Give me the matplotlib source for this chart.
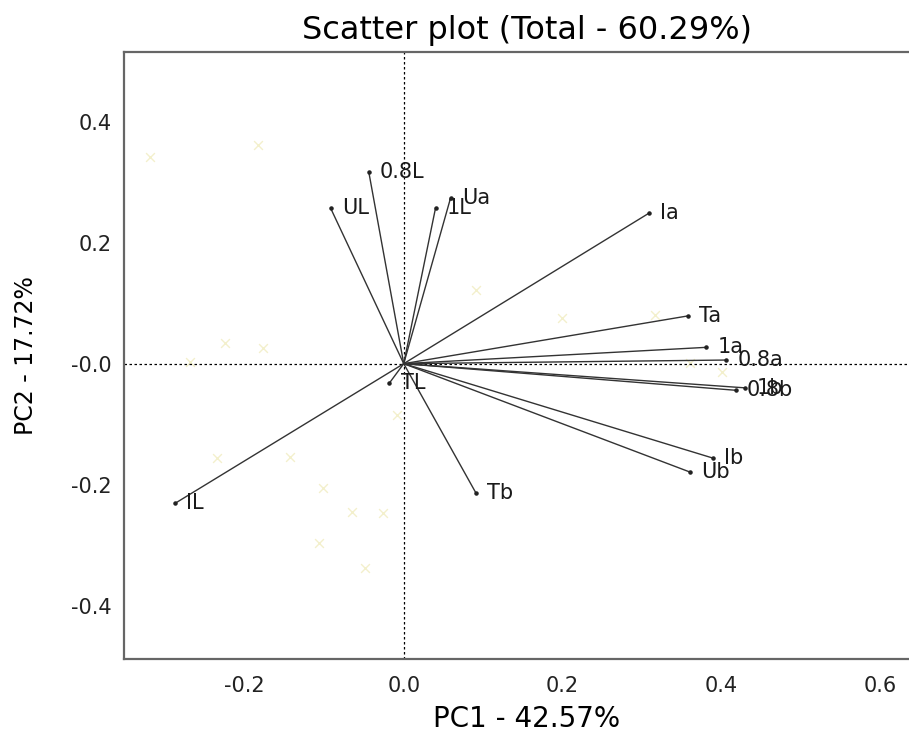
import matplotlib
matplotlib.use("Agg")
import matplotlib.pyplot as plt

# the reference glyphs are wide, DejaVu Sans is the closest installed match
plt.rcParams["font.family"] = ["DejaVu Sans"]

# variable loadings (PC1, PC2)
var_names = ["0.8L", "UL", "1L", "Ua", "Ia", "Ta", "1a", "0.8a",
             "0.8b", "1b", "Ib", "Ub", "Tb", "IL", "TL"]
pc1 = [-0.044, -0.092, 0.040, 0.059, 0.309, 0.358, 0.381, 0.406,
       0.418, 0.430, 0.389, 0.360, 0.091, -0.288, -0.018]
pc2 = [0.317, 0.257, 0.257, 0.274, 0.249, 0.079, 0.027, 0.006,
       -0.044, -0.040, -0.156, -0.179, -0.214, -0.231, -0.032]

# faint observation scores
obs_x = [-0.319, -0.184, -0.225, -0.177, -0.269, -0.235, -0.143, -0.102,
         -0.065, -0.026, -0.009, -0.106, -0.049, 0.316, 0.360, 0.401,
         0.091, 0.199]
obs_y = [0.341, 0.361, 0.034, 0.026, 0.002, -0.156, -0.155, -0.206,
         -0.245, -0.247, -0.085, -0.297, -0.338, 0.080, 0.001, -0.014,
         0.121, 0.075]

title = "Scatter plot (Total - 60.29%)"
xlabel = "PC1 - 42.57%"
ylabel = "PC2 - 17.72%"
xticks = [-0.2, 0.0, 0.2, 0.4, 0.6]
yticks = [-0.4, -0.2, 0.0, 0.2, 0.4]
ytick_labels = ["-0.4", "-0.2", "-0.0", "0.2", "0.4"]

fig = plt.figure(figsize=(9.09, 7.38), dpi=100)
ax = fig.add_axes([124 / 909, 79 / 738, 805 / 909, 607 / 738])
ax.set_xlim(-0.352, 0.661)
ax.set_ylim(-0.488, 0.515)

ax.scatter(obs_x, obs_y, marker="x", s=40, color="#f3f0cc", linewidths=1, zorder=1)

ax.axhline(0, color="black", linestyle=(0, (2, 2)), linewidth=0.9, zorder=2)
ax.axvline(0, color="black", linestyle=(0, (2, 2)), linewidth=0.9, zorder=2)

for name, x, y in zip(var_names, pc1, pc2):
    ax.plot([0, x], [0, y], color="#333333", linewidth=1.0, zorder=3)
    ax.annotate(name, (x, y), xytext=(8, 0), textcoords="offset points",
                va="center", ha="left", fontsize=15, color="#1a1a1a", zorder=4)
ax.scatter(pc1, pc2, s=5, color="#222222", zorder=4)

ax.set_xticks(xticks)
ax.set_xticklabels([f"{t:.1f}" for t in xticks])
ax.set_yticks(yticks)
ax.set_yticklabels(ytick_labels)
ax.tick_params(length=0, labelsize=15, labelcolor="#222222")
ax.tick_params(axis="x", pad=12)
ax.tick_params(axis="y", pad=9)

for sp in ax.spines.values():
    sp.set_color("#666666")
    sp.set_linewidth(1.6)

ax.set_title(title, fontsize=23, pad=9)
ax.set_xlabel(xlabel, fontsize=20, labelpad=7)
ax.set_ylabel(ylabel, fontsize=17, labelpad=24)

fig.savefig("out.png", dpi=100)
